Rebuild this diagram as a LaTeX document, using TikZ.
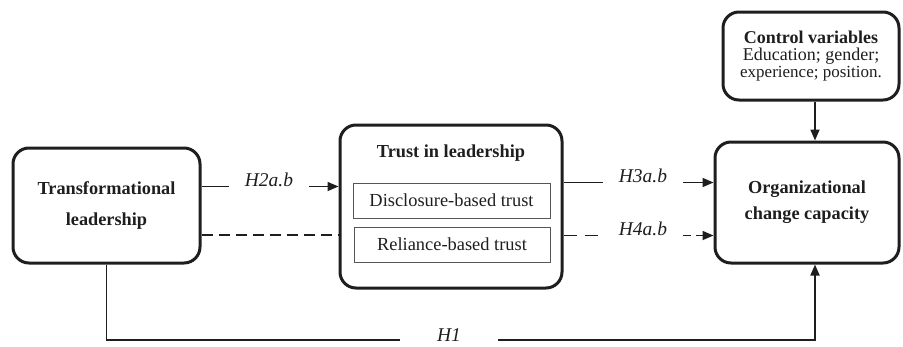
\documentclass[tikz,border=0pt]{standalone}
\usepackage{fontspec}
\setmainfont{Liberation Serif}
\usetikzlibrary{arrows.meta}
\definecolor{ink}{HTML}{1E1E1E}
\tikzset{
  bigbox/.style={draw=ink, line width=3pt, rounded corners=16pt, align=center, inner sep=0pt, text=ink},
  subbox/.style={draw=ink!75, line width=0.9pt, minimum height=35pt, inner sep=0pt, text=ink,
    font=\fontsize{18.4}{20}\selectfont},
  hyp/.style={font=\fontsize{19.5}{22}\selectfont\itshape, inner xsep=16pt, inner ysep=2pt, anchor=base, text=ink},
  link/.style={draw=ink, line width=1.7pt},
  tip/.style={-{Triangle[length=11pt,width=9pt]}},
  arr/.style={link, tip},
  dashlink/.style={link, dash pattern=on 13pt off 8pt},
}
\begin{document}
\begin{tikzpicture}[x=1pt,y=-1pt]
\useasboundingbox (0,0) rectangle (903,346);

% boxes
\node[bigbox, minimum width=187pt, minimum height=115pt, font=\fontsize{18.3}{32}\selectfont\bfseries]
  (tl) at (106.5,205.5) {Transformational\\leadership};
\node[bigbox, minimum width=222pt, minimum height=163pt] (trust) at (451,206.5) {};
\node[font=\fontsize{18.3}{20}\selectfont\bfseries, text=ink] (trusttitle) at (451,153) {Trust in leadership};
\node[subbox, minimum width=197pt] (disc) at (451.5,200.5) {Disclosure-based trust};
\node[subbox, minimum width=196pt] (rel) at (452,244.5) {Reliance-based trust};
\node[bigbox, minimum width=184pt, minimum height=121pt, font=\fontsize{18.3}{26}\selectfont\bfseries]
  (occ) at (807,202.5) {Organizational\\change capacity};
\node[bigbox, minimum width=176pt, minimum height=88pt, font=\fontsize{18}{17}\selectfont]
  (ctrl) at (811,56) {\textbf{Control variables}\\Education; gender;\\{\fontsize{17}{17}\selectfont experience; position.}};

% hypothesis labels
\node[hyp] (h2) at (269,186.5) {H2a.b};
\node[hyp] (h3) at (643,182.5) {H3a.b};
\node[hyp] (h4) at (643,235.5) {H4a.b};
\node[hyp, inner xsep=37pt] (h1) at (449,341) {H1};

\coordinate (dy) at (0,235);
\coordinate (bot) at (0,340);
\coordinate (col) at (815,0);

% connectors
\draw[link] (tl.east |- h2.base) -- (h2.base west);
\draw[arr] (h2.base east) -- (trust.west |- h2.base);
\draw[dashlink, dash pattern=on 11pt off 6pt] (tl.east |- dy) -- (trust.west |- dy);

\draw[link] (trust.east |- h3.base) -- (h3.base west);
\draw[arr] (h3.base east) -- (occ.west |- h3.base);
\draw[dashlink] (trust.east |- h4.base) -- (h4.base west);
\draw[dashlink, tip, dash pattern=on 8pt off 5pt] (h4.base east) -- (occ.west |- h4.base);

\draw[link] (tl.south) |- (h1.west |- bot);
\draw[arr] (h1.east |- bot) -| (occ.south -| col);
\draw[arr] (ctrl.south -| col) -- (occ.north -| col);
\end{tikzpicture}
\end{document}
